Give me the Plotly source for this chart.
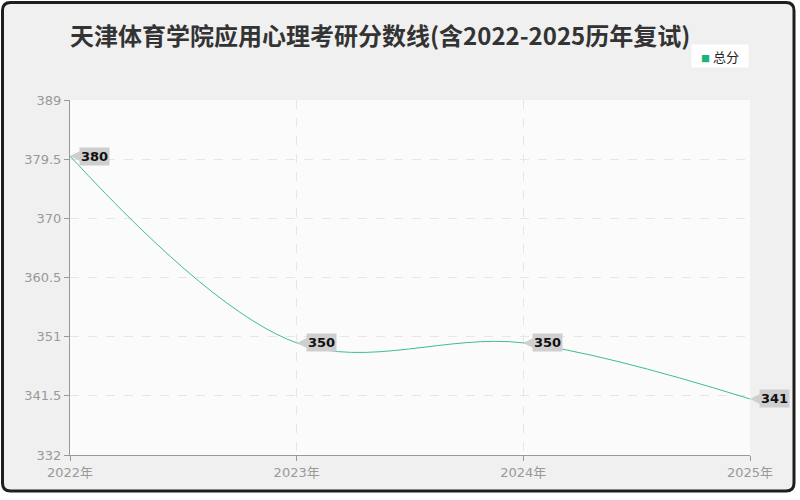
import plotly.graph_objects as go

years = ["2022年", "2023年", "2024年", "2025年"]
scores = [380, 350, 350, 341]
series_name = "总分"
title_text = "天津体育学院应用心理考研分数线(含2022-2025历年复试)"
y_ticks = [332, 341.5, 351, 360.5, 370, 379.5, 389]

W, H = 800, 500
ML, MR, MT, MB = 70, 50, 100, 45
PW, PH = W - ML - MR, H - MT - MB

def px(x):
    return (x - ML) / PW

def py(y):
    return (H - MB - y) / PH

line_color = "#3bbf8f"
cjk = "Noto Sans CJK SC"
font_family = f"DejaVu Sans, {cjk}, sans-serif"

fig = go.Figure()
fig.add_trace(go.Scatter(
    x=years, y=scores, mode="lines", name=series_name,
    line=dict(color=line_color, width=1, shape="spline", smoothing=1.0),
    showlegend=False,
))
# label arrow tips
fig.add_trace(go.Scatter(
    x=years, y=scores, mode="markers", showlegend=False, hoverinfo="skip",
    marker=dict(symbol="arrow-left", size=11, color="#cfcfcf", line=dict(width=0)),
    cliponaxis=False,
))

for xv, yv in zip(years, scores):
    fig.add_annotation(
        x=xv, y=yv, text=f"<b>{yv}</b>", showarrow=False,
        xanchor="left", yanchor="middle", xshift=9,
        bgcolor="#cfcfcf", borderpad=1,
        font=dict(family=font_family, size=13, color="#111"),
    )

# legend box
fig.add_annotation(
    x=px(720), y=py(56), xref="paper", yref="paper", showarrow=False,
    xanchor="center", yanchor="middle", width=52, height=18, align="center",
    text=f"<span style='color:#1ab37c;font-size:9px'>■</span> {series_name}",
    bgcolor="#ffffff", borderpad=2,
    font=dict(family=cjk, size=13, color="#222222"),
)

# rounded frame
r = 8
x0, y0, x1, y1 = 2.5, 2.5, 794, 491
path = (
    f"M {px(x0 + r)},{py(y0)} L {px(x1 - r)},{py(y0)} "
    f"Q {px(x1)},{py(y0)} {px(x1)},{py(y0 + r)} "
    f"L {px(x1)},{py(y1 - r)} Q {px(x1)},{py(y1)} {px(x1 - r)},{py(y1)} "
    f"L {px(x0 + r)},{py(y1)} Q {px(x0)},{py(y1)} {px(x0)},{py(y1 - r)} "
    f"L {px(x0)},{py(y0 + r)} Q {px(x0)},{py(y0)} {px(x0 + r)},{py(y0)} Z"
)
fig.add_shape(type="path", path=path, xref="paper", yref="paper",
              fillcolor="#f0f0f0", line=dict(color="#1e1e1e", width=3), layer="below")
# plot area background
fig.add_shape(type="rect", x0=0, x1=1, y0=0, y1=1, xref="paper", yref="paper",
              fillcolor="#fbfbfb", line=dict(width=0), layer="below")

fig.update_layout(
    width=W, height=H,
    margin=dict(l=ML, r=MR, t=MT, b=MB),
    paper_bgcolor="#ffffff",
    plot_bgcolor="#fbfbfb",
    font=dict(family=font_family, color="#999999", size=13),
    title=dict(text=f"<b>{title_text}</b>", x=ML / W, xanchor="left", y=1 - 37 / H, yanchor="middle",
               font=dict(family=cjk, size=24, color="#333333")),
    showlegend=False,
)
fig.update_xaxes(
    type="category", range=[0, 3],
    showgrid=True, gridcolor="#e6e6e6", griddash="dash", gridwidth=1,
    showline=True, linecolor="#999999", linewidth=1,
    ticks="outside", ticklen=5, tickcolor="#999999",
    tickfont=dict(size=13, color="#999999"), zeroline=False,
)
fig.update_yaxes(
    range=[332, 389], tickvals=y_ticks, ticktext=[f"{v:g}" for v in y_ticks],
    showgrid=True, gridcolor="#e6e6e6", griddash="dash", gridwidth=1,
    showline=True, linecolor="#999999", linewidth=1,
    ticks="outside", ticklen=5, tickcolor="#999999",
    tickfont=dict(size=13, color="#999999"), zeroline=False,
)

fig.write_html("out.html", config={"displayModeBar": False},
               post_script="document.body.style.margin='0';")
